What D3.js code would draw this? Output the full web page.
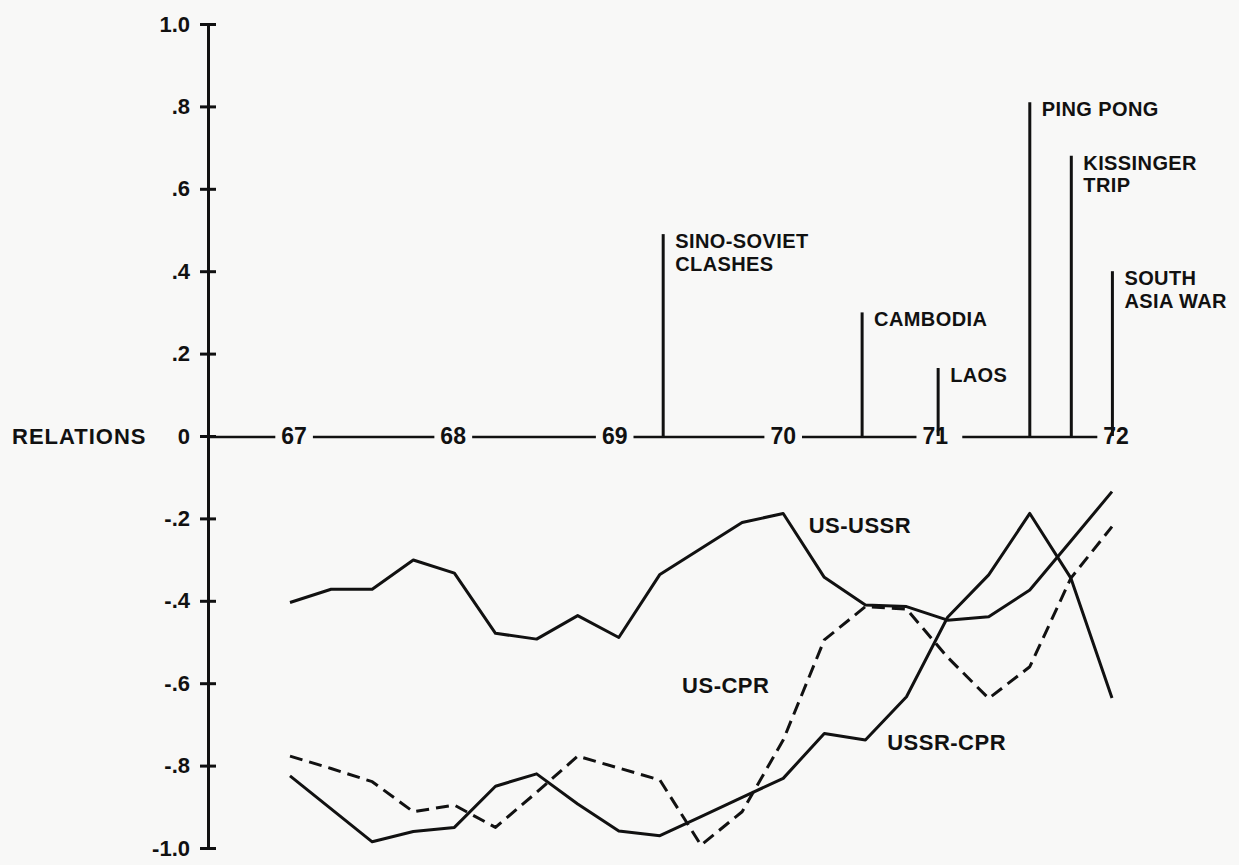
<!DOCTYPE html>
<html>
<head>
<meta charset="utf-8">
<script src="https://cdn.jsdelivr.net/npm/d3@7"></script>
<style>
  html, body { margin: 0; padding: 0; background: #f8f8f7; }
  svg { display: block; }
  text { font-family: "Liberation Sans", Arial, sans-serif; font-weight: bold; fill: #111; }
</style>
</head>
<body>
<svg id="chart" width="1239" height="865"></svg>
<script>
// ---- data (quarterly, 1967 Q1 .. 1972 Q1; index 0..20) ----
const quarters = d3.range(21);
const usUssr  = [-0.404,-0.372,-0.372,-0.301,-0.333,-0.479,-0.493,-0.436,-0.489,-0.336,-0.273,-0.210,-0.188,-0.343,-0.410,-0.414,-0.447,-0.439,-0.374,-0.255,-0.135];
const ussrCpr = [-0.825,-0.905,-0.985,-0.960,-0.950,-0.850,-0.820,-0.893,-0.959,-0.970,-0.924,-0.877,-0.831,-0.722,-0.738,-0.633,-0.440,-0.337,-0.188,-0.345,-0.636];
const usCpr   = [-0.777,-0.807,-0.839,-0.912,-0.896,-0.950,-0.865,-0.777,-0.806,-0.835,-0.993,-0.912,-0.738,-0.495,-0.414,-0.420,-0.537,-0.637,-0.560,-0.345,-0.220];

const yearLabels = ["67","68","69","70","71","72"];
const yearPos    = [0.1, 3.97, 7.9, 12.0, 15.7, 20.1];

const yTicks = [1.0, 0.8, 0.6, 0.4, 0.2, 0, -0.2, -0.4, -0.6, -0.8, -1.0];
const yTickLabels = ["1.0", ".8", ".6", ".4", ".2", "0", "-.2", "-.4", "-.6", "-.8", "-1.0"];

const eventNames  = [["SINO-SOVIET","CLASHES"], ["CAMBODIA"], ["LAOS"], ["PING PONG"], ["KISSINGER","TRIP"], ["SOUTH","ASIA WAR"]];
const eventPos    = [9.08, 13.92, 15.77, 18.0, 19.01, 20.01];
const eventHeight = [0.49, 0.30, 0.165, 0.81, 0.68, 0.40];

const seriesNames = ["US-USSR", "US-CPR", "USSR-CPR"];
const seriesLabelPos = [12.62, 9.54, 14.53];
const seriesLabelVal = [-0.235, -0.624, -0.762];

// ---- layout ----
const svg = d3.select("#chart");
const W = 1239, H = 865;
const bg = "#f8f8f7";
svg.append("rect").attr("width", W).attr("height", H).attr("fill", bg);

const x = d3.scaleLinear().domain([0, 20]).range([290, 1112]);
const y = d3.scaleLinear().domain([-1, 1]).range([848, 24]);
const axisX = 208;
const ink = "#111";

// Y axis
const yAxis = d3.axisLeft(y)
  .tickValues(yTicks)
  .tickFormat((d, i) => yTickLabels[i])
  .tickSizeInner(7)
  .tickSizeOuter(0)
  .tickPadding(10);
const gy = svg.append("g").attr("transform", `translate(${axisX},0)`).call(yAxis);
gy.select(".domain").attr("stroke", ink).attr("stroke-width", 3);
gy.selectAll(".tick line").attr("x1", -8).attr("x2", 8).attr("stroke", ink).attr("stroke-width", 3);
gy.selectAll(".tick text")
  .attr("font-size", 22)
  .attr("font-family", '"Liberation Sans", Arial, sans-serif')
  .attr("font-weight", "bold")
  .attr("fill", ink)
  .attr("x", -18);

// RELATIONS label next to 0
svg.append("text")
  .attr("x", 12).attr("y", y(0)).attr("dy", "0.36em")
  .attr("font-size", 22).attr("letter-spacing", 1)
  .text("RELATIONS");

// Zero line (time axis)
svg.append("line")
  .attr("x1", axisX).attr("x2", x(20) - 12)
  .attr("y1", y(0) + 1).attr("y2", y(0) + 1)
  .attr("stroke", ink).attr("stroke-width", 2.5);

// Year labels with background gaps
const yl = svg.append("g");
yearLabels.forEach((lab, i) => {
  const t = yl.append("text")
    .attr("x", x(yearPos[i])).attr("y", y(0)).attr("dy", "0.36em")
    .attr("text-anchor", "middle").attr("font-size", 23)
    .text(lab);
  const bb = t.node().getBBox();
  const padR = lab === "71" ? 14 : 6;
  yl.insert("rect", "text")
    .attr("x", bb.x - 6).attr("y", bb.y)
    .attr("width", bb.width + 6 + padR).attr("height", bb.height)
    .attr("fill", bg);
});

// Event spikes
const ev = svg.append("g");
eventNames.forEach((lines, i) => {
  const ex = x(eventPos[i]);
  ev.append("line")
    .attr("x1", ex).attr("x2", ex)
    .attr("y1", y(0)).attr("y2", y(eventHeight[i]))
    .attr("stroke", ink).attr("stroke-width", 3);
  lines.forEach((ln, j) => {
    ev.append("text")
      .attr("x", ex + 12)
      .attr("y", y(eventHeight[i]) + 14 + j * 22.5)
      .attr("font-size", 20)
      .attr("letter-spacing", 0.4)
      .text(ln);
  });
});

// Series lines
const line = d3.line().x((d, i) => x(quarters[i])).y(d => y(d));
svg.append("path").datum(usUssr).attr("d", line)
  .attr("fill", "none").attr("stroke", ink).attr("stroke-width", 3).attr("stroke-linejoin", "round");
svg.append("path").datum(ussrCpr).attr("d", line)
  .attr("fill", "none").attr("stroke", ink).attr("stroke-width", 3).attr("stroke-linejoin", "round");
svg.append("path").datum(usCpr).attr("d", line)
  .attr("fill", "none").attr("stroke", ink).attr("stroke-width", 3)
  .attr("stroke-dasharray", "13,7").attr("stroke-linejoin", "round");

// Series labels
seriesNames.forEach((n, i) => {
  svg.append("text")
    .attr("x", x(seriesLabelPos[i])).attr("y", y(seriesLabelVal[i]))
    .attr("font-size", 22).attr("letter-spacing", 0.5)
    .text(n);
});
</script>
</body>
</html>
